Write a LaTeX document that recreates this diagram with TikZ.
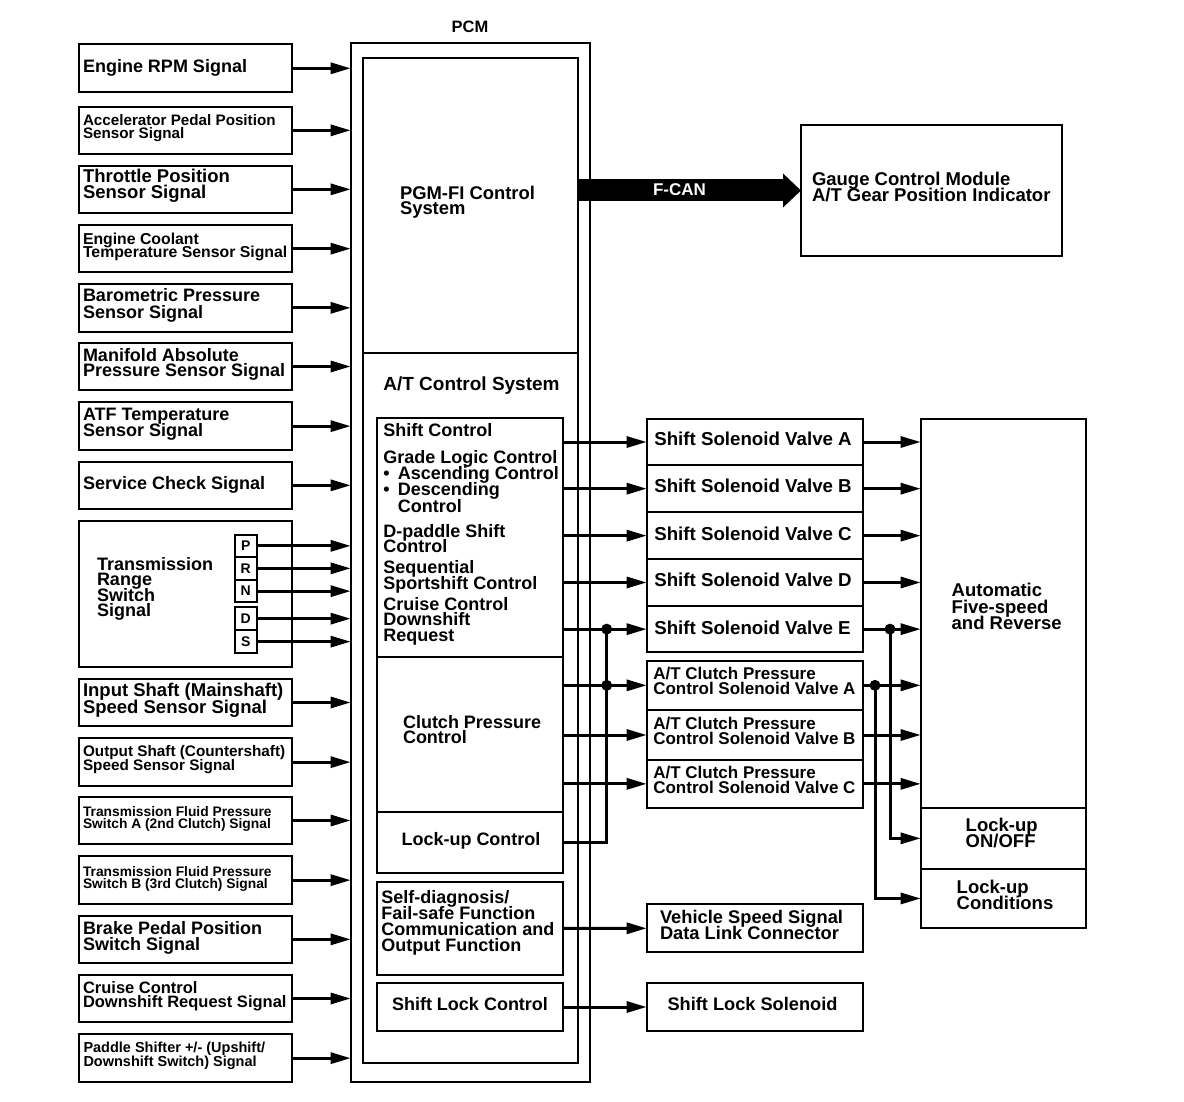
\documentclass[tikz,border=0pt]{standalone}
\usepackage{fontspec}
\setmainfont{Liberation Sans}
\usetikzlibrary{arrows.meta,calc}
\newcommand\myfs[2]{\fontsize{#1pt}{#2pt}\selectfont\lineskiplimit=-30pt\relax}
\newcommand\ml[1]{\vtop{\halign{##\hfil\cr#1\crcr}}}
\newcommand\bxx[7][]{\node[boxst,anchor=north west,minimum width={#5pt-#3pt},minimum height={#6pt-#4pt},#1] (#2) at (#3,#4) {#7};}
\tikzset{
  boxst/.style={draw, line width=2pt, inner sep=0pt, outer sep=0pt, font=\bfseries},
  txt/.style={inner sep=0pt, outer sep=0pt, anchor=base west},
  fs/.style 2 args={font=\bfseries\myfs{#1}{#2}},
  arr/.style={line width=3pt, -{Triangle[length=20pt,width=11pt]}},
  ln/.style={line width=3pt, line join=miter},
  divln/.style={line width=2pt},
  dot/.style={circle, fill=black, inner sep=0pt, minimum size=11pt},
  fcan/.style={line width=22pt, -{Triangle[length=18pt,width=33pt]}},
}
\begin{document}
\begin{tikzpicture}[x=1pt,y=-1pt]
\fill[white] (0,0) rectangle (1184,1102);
\useasboundingbox (0,0) rectangle (1184,1102);

% ---------- left input boxes ----------
\bxx{b1}{79}{44.3}{292}{92.3}{}
\bxx{b2}{79}{106.7}{292}{154}{}
\bxx{b3}{79}{165.7}{292}{213}{}
\bxx{b4}{79}{225}{292}{272.3}{}
\bxx{b5}{79}{283.7}{292}{332}{}
\bxx{b6}{79}{342.7}{292}{390.3}{}
\bxx{b7}{79}{402.3}{292}{450}{}
\bxx{b8}{79}{461.7}{292}{509}{}
\bxx{b9}{79}{520.7}{292}{667.3}{}
\bxx{b10}{79}{679}{292}{726}{}
\bxx{b11}{79}{738.3}{292}{786}{}
\bxx{b12}{79}{796.7}{292}{844.3}{}
\bxx{b13}{79}{856.3}{292}{904}{}
\bxx{b14}{79}{915.7}{292}{963}{}
\bxx{b15}{79}{974.7}{292}{1022.3}{}
\bxx{b16}{79}{1034.3}{292}{1082}{}

\node[txt,fs={18}{16}] (t1) at (83,72.7) {\ml{Engine RPM Signal}};
\node[txt,fs={15.2}{12.3}] (t2) at (83,126) {\ml{Accelerator Pedal Position\cr Sensor Signal}};
\node[txt,fs={18.5}{16.3}] (t3) at (83,182.7) {\ml{Throttle Position\cr Sensor Signal}};
\node[txt,fs={15.8}{13}] (t4) at (83,244.3) {\ml{Engine Coolant\cr Temperature Sensor Signal}};
\node[txt,fs={18}{16.6}] (t5) at (83,301.7) {\ml{Barometric Pressure\cr Sensor Signal}};
\node[txt,fs={18}{15.7}] (t6) at (83,361) {\ml{Manifold Absolute\cr Pressure Sensor Signal}};
\node[txt,fs={18}{16}] (t7) at (83,420) {\ml{ATF Temperature\cr Sensor Signal}};
\node[txt,fs={18}{16}] (t8) at (83,489.3) {\ml{Service Check Signal}};
\node[txt,fs={18}{15.6}] (t9) at (97,570) {\ml{Transmission\cr Range\cr Switch\cr Signal}};
\node[txt,fs={18.5}{16.6}] (t10) at (83,696.7) {\ml{Input Shaft (Mainshaft)\cr Speed Sensor Signal}};
\node[txt,fs={15.3}{14}] (t11) at (83,756) {\ml{Output Shaft (Countershaft)\cr Speed Sensor Signal}};
\node[txt,fs={13.8}{12.3}] (t12) at (83,816) {\ml{Transmission Fluid Pressure\cr Switch A (2nd Clutch) Signal}};
\node[txt,fs={13.8}{12.3}] (t13) at (83,876) {\ml{Transmission Fluid Pressure\cr Switch B (3rd Clutch) Signal}};
\node[txt,fs={18}{15.7}] (t14) at (83,934.3) {\ml{Brake Pedal Position\cr Switch Signal}};
\node[txt,fs={16.5}{14.4}] (t15) at (83,993.3) {\ml{Cruise Control\cr Downshift Request Signal}};
\node[txt,fs={14.5}{13.3}] (t16) at (83.5,1052.7) {\ml{Paddle Shifter +/- (Upshift/\cr Downshift Switch) Signal}};

% range switch positions
\bxx[fs={14}{14}]{sP}{234.6}{535}{256.9}{556.7}{P}
\bxx[fs={14}{14}]{sR}{234.6}{556.7}{256.9}{580}{R}
\bxx[fs={14}{14}]{sN}{234.6}{580}{256.9}{602.3}{N}
\bxx[fs={14}{14}]{sD}{234.6}{607.3}{256.9}{630}{D}
\bxx[fs={14}{14}]{sS}{234.6}{630}{256.9}{653.3}{S}

% ---------- PCM ----------
\node[txt,anchor=base,fs={16.5}{16}] (pcmlbl) at (470,32.7) {PCM};
\bxx{pcm}{350.7}{42.7}{590}{1082}{}
\bxx{inner}{362.7}{57.7}{578}{1063.3}{}
\draw[divln] (inner.west |- 0,352.7) -- (inner.east |- 0,352.7);
\node[txt,fs={18.4}{15}] (pgmfi) at (400,200) {\ml{PGM-FI Control\cr System}};
\node[txt,fs={19}{16}] (atcs) at (383.3,390) {\ml{A/T Control System}};

\bxx{sc}{376.7}{418.3}{563.3}{656.7}{}
\bxx{cp}{376.7}{656.7}{563.3}{811.7}{}
\bxx{lu}{376.7}{811.7}{563.3}{872.7}{}
\bxx{sd}{376.7}{881.7}{563.3}{975}{}
\bxx{slc}{376.7}{983.3}{563.3}{1030.7}{}

\node[txt,fs={18}{16}] (tsc1) at (383.3,436) {\ml{Shift Control}};
\node[txt,fs={18}{16.3}] (tsc2) at (383.3,463.3) {\ml{Grade Logic Control\cr \makebox[14.5pt][l]{•}Ascending Control\cr \makebox[14.5pt][l]{•}Descending\cr \hspace*{14.5pt}Control}};
\node[txt,fs={18}{15.4}] (tsc3) at (383.3,537.3) {\ml{D-paddle Shift\cr Control}};
\node[txt,fs={18}{16}] (tsc4) at (383.3,573.3) {\ml{Sequential\cr Sportshift Control}};
\node[txt,fs={18}{15.8}] (tsc5) at (383.3,610) {\ml{Cruise Control\cr Downshift\cr Request}};
\node[txt,fs={18}{15}] (tcp) at (403,728.3) {\ml{Clutch Pressure\cr Control}};
\node[txt,anchor=base,fs={18}{16}] (tlu) at (471,845) {Lock-up Control};
\node[txt,fs={18}{16.2}] (tsd) at (381.3,903.3) {\ml{Self-diagnosis/\cr Fail-safe Function\cr Communication and\cr Output Function}};
\node[txt,anchor=base,fs={18}{16}] (tslc) at (470,1010) {Shift Lock Control};

% ---------- gauge ----------
\bxx{gcm}{801}{125}{1062}{256}{}
\node[txt,fs={18.5}{16}] (tgcm) at (812,186) {\ml{Gauge Control Module\cr A/T Gear Position Indicator}};
\draw[fcan] (inner.east |- gcm.west) -- (gcm.west);
\node[txt,anchor=base,fs={17}{16},text=white] (tfcan) at (679.5,196) {F-CAN};

% ---------- solenoids ----------
\bxx{ssvA}{646.7}{419}{863}{465}{}
\bxx{ssvB}{646.7}{465}{863}{512.3}{}
\bxx{ssvC}{646.7}{512.3}{863}{559}{}
\bxx{ssvD}{646.7}{559}{863}{606}{}
\bxx{ssvE}{646.7}{606}{863}{652.3}{}
\bxx{cpcA}{646.7}{660.7}{863}{710}{}
\bxx{cpcB}{646.7}{710}{863}{760}{}
\bxx{cpcC}{646.7}{760}{863}{807.7}{}
\bxx{vss}{646.7}{904.3}{862.7}{952.3}{}
\bxx{sls}{646.7}{983}{862.7}{1031}{}

\node[txt,fs={18.7}{16}] (tA) at (654.3,445.7) {Shift Solenoid Valve A};
\node[txt,fs={18.7}{16}] (tB) at (654.3,492.7) {Shift Solenoid Valve B};
\node[txt,fs={18.7}{16}] (tC) at (654.3,540) {Shift Solenoid Valve C};
\node[txt,fs={18.7}{16}] (tD) at (654.3,586.7) {Shift Solenoid Valve D};
\node[txt,fs={18.7}{16}] (tE) at (654.3,634) {Shift Solenoid Valve E};
\node[txt,fs={17}{15}] (tcA) at (653.3,679.3) {\ml{A/T Clutch Pressure\cr Control Solenoid Valve A}};
\node[txt,fs={17}{15}] (tcB) at (653.3,729.3) {\ml{A/T Clutch Pressure\cr Control Solenoid Valve B}};
\node[txt,fs={17}{15}] (tcC) at (653.3,778.3) {\ml{A/T Clutch Pressure\cr Control Solenoid Valve C}};
\node[txt,fs={18.3}{15.7}] (tvss) at (660,923.3) {\ml{Vehicle Speed Signal\cr Data Link Connector}};
\node[txt,anchor=base,fs={18.2}{16}] (tsls) at (752.5,1010) {Shift Lock Solenoid};

% ---------- transmission ----------
\bxx{auto}{920.7}{419}{1085.7}{927.9}{}
\bxx{lon}{920.7}{807.7}{1085.7}{869}{}
\bxx{lcond}{920.7}{869}{1085.7}{927.9}{}
\node[txt,fs={18.5}{16.6}] (tauto) at (951.7,596.7) {\ml{Automatic\cr Five-speed\cr and Reverse}};
\node[txt,fs={18.5}{15.6}] (tlon) at (965.7,831.7) {\ml{Lock-up\cr ON/OFF}};
\node[txt,fs={18.5}{15.7}] (tlcond) at (956.7,893.3) {\ml{Lock-up\cr Conditions}};

% ---------- input connectors ----------
\foreach \n in {b1,b2,b3,b4,b5,b6,b7,b8,sP,sR,sN,sD,sS,b10,b11,b12,b13,b14,b15,b16}
  \draw[arr] (\n.east) -- (\n.east -| pcm.west);

% ---------- PCM outputs ----------
\foreach \n in {ssvA,ssvB,ssvC,ssvD,ssvE}
  \draw[arr] (sc.east |- \n.west) -- (\n.west);
\foreach \n in {cpcA,cpcB,cpcC}
  \draw[arr] (cp.east |- \n.west) -- (\n.west);
\path (sc.east |- ssvE.west) ++(43.4,0) coordinate (j1);
\path (cp.east |- cpcA.west) ++(43.4,0) coordinate (j2);
\draw[ln] (lu.east) -| (j1);
\node[dot] (d1) at (j1) {};
\node[dot] (d2) at (j2) {};
\draw[arr] (sd.east) -- (vss.west);
\draw[arr] (slc.east) -- (sls.west);

% ---------- solenoid outputs ----------
\foreach \n in {ssvA,ssvB,ssvC,ssvD,ssvE,cpcA,cpcB,cpcC}
  \draw[arr] (\n.east) -- (\n.east -| auto.west);
\path (ssvE.east) ++(27,0) coordinate (j3);
\path (cpcA.east) ++(12,0) coordinate (j4);
\draw[arr] (j3) |- (lon.west);
\draw[arr] (j4) |- (lcond.west);
\node[dot] (d3) at (j3) {};
\node[dot] (d4) at (j4) {};
\end{tikzpicture}
\end{document}
